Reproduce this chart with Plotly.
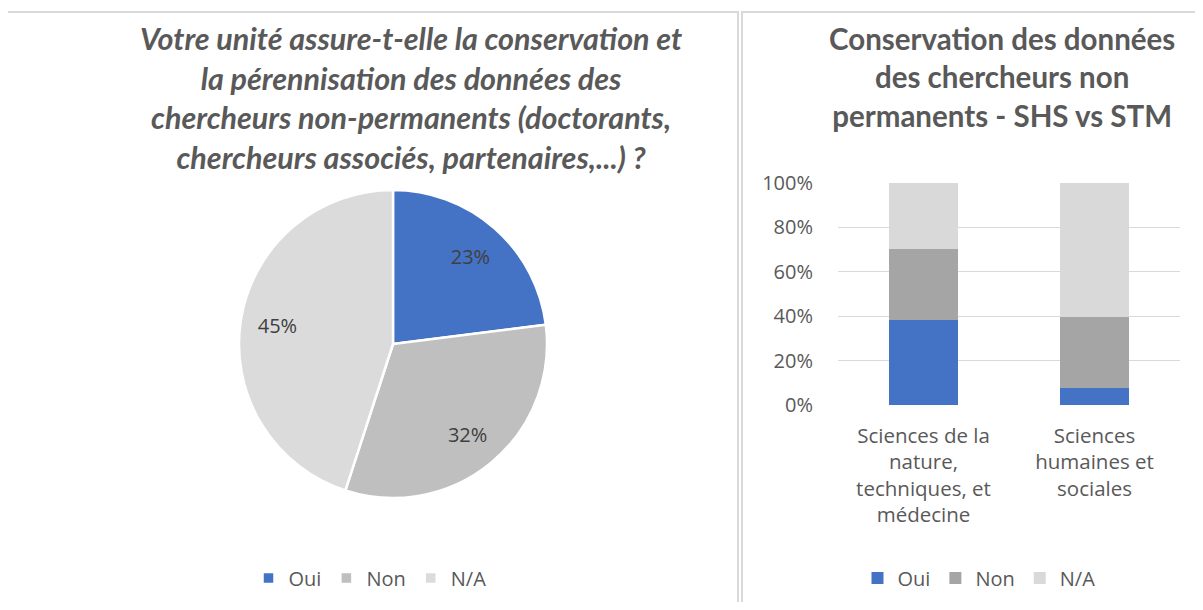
import plotly.graph_objects as go

# Pie data
pie_labels = ["Oui", "Non", "N/A"]
pie_values = [23, 32, 45]
pie_colors = ["#4472C4", "#BFBFBF", "#DBDBDB"]

# Bar data
categories = ["Sciences de la<br>nature,<br>techniques, et<br>médecine",
              "Sciences<br>humaines et<br>sociales"]
bar_oui = [38.4, 7.8]
bar_non = [31.9, 31.9]
bar_na = [29.7, 60.3]
bar_colors = ["#4472C4", "#A5A5A5", "#D9D9D9"]
y_ticks = [0, 20, 40, 60, 80, 100]
y_ticktext = ["0%", "20%", "40%", "60%", "80%", "100%"]

# page body has an 8px margin; figure sized to fit inside the window
OFF = 8
FW, FH = 1203 - 2 * OFF, 610 - 2 * OFF


def px(x):
    return (x - OFF) / FW


def py(y):
    return 1 - (y - OFF) / FH


fig = go.Figure()

# full pie (colours, no text)
fig.add_trace(go.Pie(
    labels=pie_labels, values=pie_values, sort=False, direction="clockwise", rotation=0,
    marker=dict(colors=pie_colors, line=dict(color="white", width=2.5)),
    textinfo="none",
    domain=dict(x=[px(239), px(547)], y=[py(498), py(190)]),
    legend="legend", hoverinfo="label+percent",
))
# transparent ring carrying the percentage labels further out
fig.add_trace(go.Pie(
    labels=pie_labels, values=pie_values, sort=False, direction="clockwise", rotation=0,
    hole=0.52,
    marker=dict(colors=["rgba(0,0,0,0)"] * 3, line=dict(width=0)),
    textinfo="percent", textposition="inside", insidetextorientation="horizontal",
    textfont=dict(family="Open Sans", size=20, color="#404040"),
    domain=dict(x=[px(239), px(547)], y=[py(498), py(190)]),
    showlegend=False, hoverinfo="skip",
))

for name, vals, col in zip(["Oui", "Non", "N/A"], [bar_oui, bar_non, bar_na], bar_colors):
    fig.add_trace(go.Bar(
        x=categories, y=vals, name=name, marker=dict(color=col, line=dict(width=0)),
        legend="legend2", hovertemplate="%{y:.0f}%<extra>" + name + "</extra>",
    ))

fig.update_layout(
    width=FW, height=FH, margin=dict(l=0, r=0, t=0, b=0, pad=0, autoexpand=False),
    paper_bgcolor="white", plot_bgcolor="white",
    barmode="stack", bargap=0.6,
    font=dict(family="Open Sans", color="#595959", size=20),
    xaxis=dict(domain=[px(838), px(1180)], showgrid=False, showline=False, zeroline=False,
               ticks="", tickfont=dict(family="Open Sans", size=20.5, color="#595959"),
               automargin=False, ticklabelstandoff=16),
    yaxis=dict(domain=[py(405), py(183)], range=[0, 100], tickmode="array",
               tickvals=y_ticks, ticktext=y_ticktext,
               showgrid=True, gridcolor="#D9D9D9", gridwidth=1, zeroline=False, showline=False,
               ticks="", tickfont=dict(family="Open Sans", size=20, color="#595959"),
               automargin=False, ticklabelstandoff=24),
    legend=dict(orientation="h", x=px(370), xanchor="center", y=py(578), yanchor="middle",
                font=dict(family="Open Sans", size=20, color="#595959"), itemwidth=30,
                traceorder="normal"),
    legend2=dict(orientation="h", x=px(979), xanchor="center", y=py(578), yanchor="middle",
                 font=dict(family="Open Sans", size=20, color="#595959"), itemwidth=30,
                 traceorder="normal"),
    showlegend=True,
)

fig.add_annotation(
    text="<b><i>Votre unité assure-t-elle la conservation et<br>la pérennisation des données des<br>"
         "chercheurs non-permanents (doctorants,<br>chercheurs associés, partenaires,...) ?</i></b>",
    x=px(411), y=py(98), xref="paper", yref="paper", xanchor="center", yanchor="middle",
    showarrow=False, align="center", font=dict(family="Lato", size=30.5, color="#595959"),
)
fig.add_annotation(
    text="<b>Conservation des données<br>des chercheurs non<br>permanents - SHS vs STM</b>",
    x=px(1002), y=py(77), xref="paper", yref="paper", xanchor="center", yanchor="middle",
    showarrow=False, align="center", font=dict(family="Lato", size=29.5, color="#595959"),
)

# panel borders
fig.add_shape(type="rect", xref="paper", yref="paper", x0=px(7), x1=px(738), y0=-0.05, y1=py(12),
              line=dict(color="#D9D9D9", width=2), fillcolor="rgba(0,0,0,0)", layer="below")
fig.add_shape(type="rect", xref="paper", yref="paper", x0=px(742), x1=1.05, y0=-0.05, y1=py(12),
              line=dict(color="#D9D9D9", width=2), fillcolor="rgba(0,0,0,0)", layer="below")

fig.write_html("out.html")
